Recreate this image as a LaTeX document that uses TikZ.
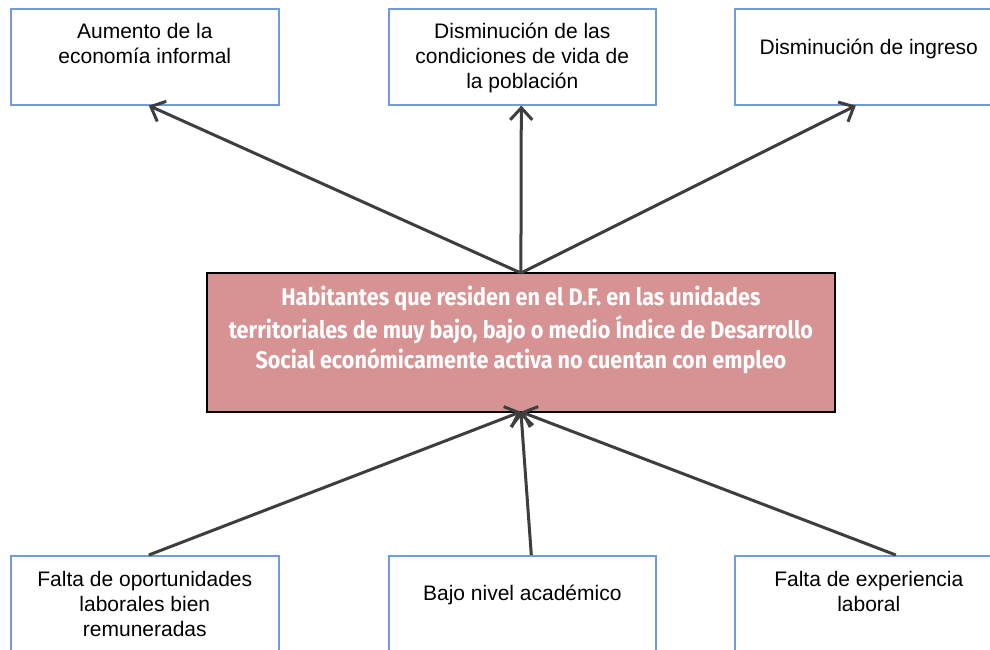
\documentclass[tikz,border=0pt]{standalone}
\usepackage{fontspec}
\setmainfont{Liberation Sans}
\newfontfamily\corefont[FakeStretch=0.9]{Fira Sans}
\usetikzlibrary{arrows.meta}
\definecolor{boxblue}{RGB}{112,155,220}
\definecolor{corefill}{RGB}{215,147,147}
\definecolor{arrowgray}{RGB}{62,62,62}
\newcommand\boxtxt[4]{\parbox[c][#2pt][t]{#1pt}{\fontsize{21}{25}\selectfont\centering\vspace*{#3pt}\strut#4\par}}
\newcommand\coretxt[4]{\parbox[c][#2pt][t]{#1pt}{\corefont\bfseries\fontsize{24}{30}\selectfont\color{white}\centering\vspace*{#3pt}\strut#4\par}}
\begin{document}
\begin{tikzpicture}[x=1pt,y=-1pt,
  boxstyle/.style={draw=boxblue,line width=1.6pt,fill=white,inner sep=0pt,anchor=north west},
  corestyle/.style={draw=black,line width=1.8pt,fill=corefill,inner sep=0pt,anchor=north west},
  arr/.style={draw=arrowgray,line width=3pt,-{Straight Barb[length=12pt,width=22pt,line width=3pt]}}]
\clip (0,0) rectangle (990,650);
\fill[white] (0,0) rectangle (990,650);
% effects
\node[boxstyle] (e1) at (10,8) {\boxtxt{268}{96}{12}{Aumento de la\\economía informal}};
\node[boxstyle] (e2) at (388,8) {\boxtxt{267}{96}{12}{Disminución de las\\condiciones de vida de\\la población}};
\node[boxstyle] (e3) at (734,8) {\boxtxt{268}{96}{28}{Disminución de ingreso}};
% core problem
\node[corestyle] (c) at (206,272) {\coretxt{628}{139}{12}{Habitantes que residen en el D.F. en las unidades\\territoriales de muy bajo, bajo o medio Índice de Desarrollo\\Social económicamente activa no cuentan con empleo}};
% causes
\node[boxstyle] (c1) at (10,555) {\boxtxt{268}{96}{13}{Falta de oportunidades\\laborales bien\\remuneradas}};
\node[boxstyle] (c2) at (388,555) {\boxtxt{267}{96}{27}{Bajo nivel académico}};
\node[boxstyle] (c3) at (734,555) {\boxtxt{268}{96}{13}{Falta de experiencia\\laboral}};
% arrows
\coordinate (ctop) at ([yshift=-1pt]c.north);
\coordinate (cbot) at ([yshift=1pt]c.south);
\draw[arr] (ctop) -- ([xshift=4pt]e1.south);
\draw[arr] (ctop) -- ([xshift=-1pt]e2.south);
\draw[arr] (ctop) -- ([xshift=-13pt]e3.south);
\draw[arr] ([xshift=4pt]c1.north) -- (cbot);
\draw[arr] ([xshift=9pt]c2.north) -- (cbot);
\draw[arr] ([xshift=27pt]c3.north) -- (cbot);
\end{tikzpicture}
\end{document}
